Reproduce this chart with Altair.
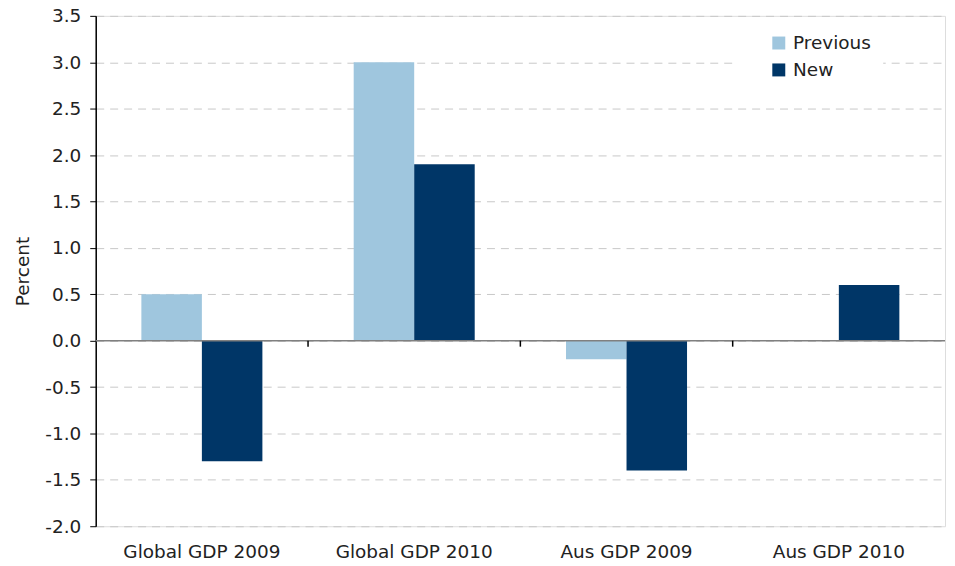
import altair as alt
import pandas as pd

categories = ["Global GDP 2009", "Global GDP 2010", "Aus GDP 2009", "Aus GDP 2010"]
previous = [0.5, 3.0, -0.2, 0.0]
new = [-1.3, 1.9, -1.4, 0.6]
series = ["Previous", "New"]
colors = ["#9fc6de", "#003667"]
boundaries = [1, 2, 3]
y_ticks = [-2.0, -1.5, -1.0, -0.5, 0.0, 0.5, 1.0, 1.5, 2.0, 2.5, 3.0, 3.5]

rows = []
for c, p, n in zip(categories, previous, new):
    rows.append({"category": c, "series": "Previous", "value": p})
    rows.append({"category": c, "series": "New", "value": n})
df = pd.DataFrame(rows)

FONT = "DejaVu Sans"
FS = 18.5

bars = alt.Chart(df).mark_bar().encode(
    x=alt.X("category:N", sort=categories, title=None,
            scale=alt.Scale(paddingInner=0.43, paddingOuter=0.215),
            axis=alt.Axis(labelAngle=0, domain=False, ticks=False, labelPadding=16,
                          labelFontSize=FS, labelFont=FONT, labelColor="#222222", grid=False)),
    xOffset=alt.XOffset("series:N", sort=series, scale=alt.Scale(paddingInner=0, paddingOuter=0)),
    y=alt.Y("value:Q", title="Percent",
            scale=alt.Scale(domain=[-2.0, 3.5], nice=False, zero=False),
            axis=alt.Axis(values=y_ticks,
                          labelExpr="replace(format(datum.value, '.1f'), '\u2212', '-')",
                          domainColor="#000000", domainWidth=1.5,
                          tickColor="#000000", tickSize=6, labelPadding=9,
                          labelFontSize=FS, labelFont=FONT, labelColor="#222222",
                          gridColor="#c8c8c8", gridDash=[8, 6], gridWidth=1,
                          titleFont=FONT, titleFontSize=FS, titleFontWeight="normal",
                          titleColor="#222222", titleX=-73, titleY=256, titleAngle=-90,
                          titleAlign="center", titleBaseline="middle")),
    color=alt.Color("series:N", sort=series,
                    scale=alt.Scale(domain=series, range=colors),
                    legend=alt.Legend(title=None, orient="none", legendX=644, legendY=6,
                                      fillColor="white", padding=12, symbolOffset=20,
                                      symbolType="square", symbolSize=169,
                                      symbolStrokeWidth=0, labelFontSize=FS, labelFont=FONT,
                                      labelColor="#222222", rowPadding=8, labelOffset=5)),
)

zero_df = pd.DataFrame({"v": [0.0]})
zero_line = alt.Chart(zero_df).mark_rule(color="#808080", strokeWidth=1.5).encode(
    y=alt.Y("v:Q"),
)

tick_df = pd.DataFrame({"b": boundaries, "y0": [0.0] * 3, "y1": [-0.065] * 3})
zero_ticks = alt.Chart(tick_df).mark_rule(color="#000000", strokeWidth=1.5).encode(
    x=alt.X("b:Q", scale=alt.Scale(domain=[0, 4], nice=False, zero=False), axis=None),
    y=alt.Y("y0:Q"),
    y2="y1:Q",
)

chart = alt.layer(bars, zero_line, zero_ticks).resolve_scale(x="independent").properties(
    width=852, height=512,
    autosize=alt.AutoSizeParams(type="none"),
    padding={"left": 88, "top": 7, "right": 2, "bottom": 34},
).configure_view(stroke="#888888", strokeWidth=1.5).configure(background="white")

chart.save("out.html", embed_options={"renderer": "svg", "actions": False})
